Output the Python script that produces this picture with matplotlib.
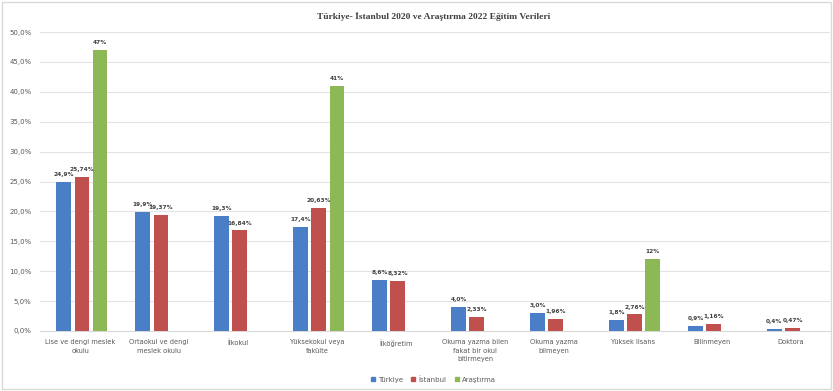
import numpy as np
import matplotlib.pyplot as plt
from matplotlib.patches import Rectangle

categories = ["Lise ve dengi meslek\nokulu", "Ortaokul ve dengi\nmeslek okulu", "İlkokul",
              "Yüksekokul veya\nfakülte", "İlköğretim", "Okuma yazma bilen\nfakat bir okul\nbitirmeyen",
              "Okuma yazma\nbilmeyen", "Yüksek lisans", "Bilinmeyen", "Doktora"]
turkiye = [24.9, 19.9, 19.3, 17.4, 8.6, 4.0, 3.0, 1.8, 0.9, 0.4]
istanbul = [25.74, 19.37, 16.84, 20.63, 8.32, 2.33, 1.96, 2.76, 1.16, 0.47]
arastirma = [47, None, None, 41, None, None, None, 12, None, None]
turkiye_labels = ["24,9%", "19,9%", "19,3%", "17,4%", "8,6%", "4,0%", "3,0%", "1,8%", "0,9%", "0,4%"]
istanbul_labels = ["25,74%", "19,37%", "16,84%", "20,63%", "8,32%", "2,33%", "1,96%", "2,76%", "1,16%", "0,47%"]
arastirma_labels = ["47%", "", "", "41%", "", "", "", "12%", "", ""]
yticks = [0, 5, 10, 15, 20, 25, 30, 35, 40, 45, 50]

blue, red, green = "#4A7EC6", "#C0504D", "#8DB856"

fig = plt.figure(figsize=(8.33, 3.91), dpi=100)
ax = fig.add_axes([0.048, 0.1535, 0.948, 0.7645])
fig.patches.append(Rectangle((0.003, 0.005), 0.994, 0.99, transform=fig.transFigure,
                             fill=False, edgecolor="#d9d9d9", lw=1))

x = np.arange(len(categories))
w = 0.185
off = 0.23
shift = 0.03


def bars(pos, vals, labels, color):
    xs = [p for p, v in zip(pos, vals) if v is not None]
    vs = [v for v in vals if v is not None]
    ls = [l for l, v in zip(labels, vals) if v is not None]
    ax.bar(xs, vs, w, color=color, zorder=3)
    for xi, vi, li in zip(xs, vs, ls):
        ax.text(xi, vi + 0.8, li, ha="center", va="bottom", fontsize=4.2,
                fontweight="bold", color="#404040", zorder=4)


bars(x - off + shift, turkiye, turkiye_labels, blue)
bars(x + shift, istanbul, istanbul_labels, red)
bars(x + off + shift, arastirma, arastirma_labels, green)

ax.set_xlim(-0.5, len(categories) - 0.5)
ax.set_ylim(0, 50)
ax.set_yticks(yticks)
ax.set_yticklabels([f"{t:.1f}%".replace(".", ",") for t in yticks], fontsize=5, color="#595959")
ax.set_xticks(x + 0.01)
ax.set_xticklabels(categories, fontsize=4.8, color="#595959", linespacing=1.5)
ax.tick_params(length=0, pad=6)
ax.yaxis.grid(True, color="#e3e3e3", lw=0.8, zorder=0)
for s in ["top", "right", "left"]:
    ax.spines[s].set_visible(False)
ax.spines["bottom"].set_color("#d9d9d9")

fig.text(0.52, 0.958, "Türkiye- İstanbul 2020 ve Araştırma 2022 Eğitim Verileri",
         ha="center", va="center", fontsize=6.8, fontweight="bold", family="Liberation Serif",
         color="#404040")

handles = [Rectangle((0, 0), 1, 1, color=c) for c in (blue, red, green)]
fig.legend(handles, ["Türkiye", "İstanbul", "Araştırma"], loc="center", bbox_to_anchor=(0.52, 0.03),
           ncol=3, frameon=False, fontsize=5, handlelength=0.6, handleheight=0.6,
           handletextpad=0.4, columnspacing=1.2, labelcolor="#595959")

fig.savefig("out.png", dpi=100)
